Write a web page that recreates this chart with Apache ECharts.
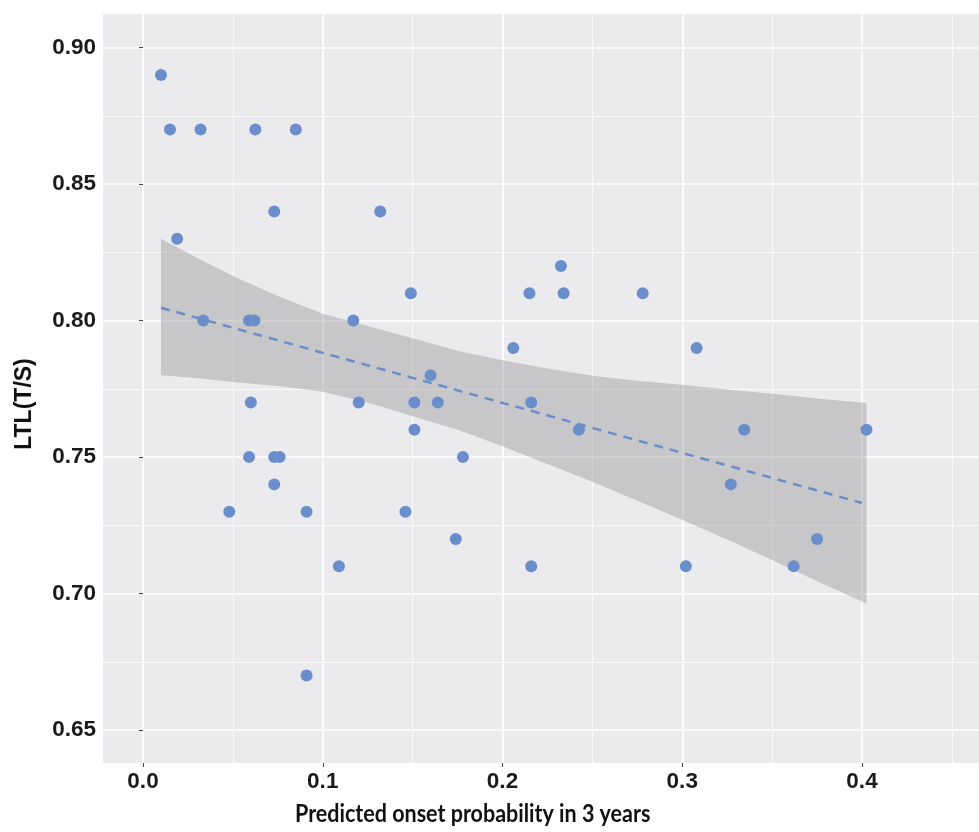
<!DOCTYPE html>
<html>
<head>
<meta charset="utf-8">
<script src="https://cdn.jsdelivr.net/npm/echarts@6/dist/echarts.min.js"></script>
<style>
  html, body { margin: 0; padding: 0; background: #fff; }
  #chart { width: 979px; height: 832px; }
</style>
</head>
<body>
<div id="chart"></div>
<script>
// observed points (predicted probability, LTL T/S)
const probX = [0.01, 0.015, 0.032, 0.0625, 0.085, 0.019, 0.073, 0.132, 0.0335, 0.059,
  0.062, 0.117, 0.06, 0.059, 0.073, 0.076, 0.073, 0.048, 0.091, 0.091,
  0.109, 0.12, 0.149, 0.16, 0.151, 0.151, 0.164, 0.146, 0.174, 0.178,
  0.206, 0.215, 0.216, 0.216, 0.2325, 0.234, 0.2425, 0.278, 0.308, 0.302,
  0.3345, 0.327, 0.362, 0.375, 0.4025]
const ltlY = [0.89, 0.87, 0.87, 0.87, 0.87, 0.83, 0.84, 0.84, 0.80, 0.80,
  0.80, 0.80, 0.77, 0.75, 0.75, 0.75, 0.74, 0.73, 0.73, 0.67,
  0.71, 0.77, 0.81, 0.78, 0.77, 0.76, 0.77, 0.73, 0.72, 0.75,
  0.79, 0.81, 0.77, 0.71, 0.82, 0.81, 0.76, 0.81, 0.79, 0.71,
  0.76, 0.74, 0.71, 0.72, 0.76]

// fitted line end points
const fitX = [0.01, 0.4]
const fitY = [0.8047, 0.7332]

// confidence band
const bandX = [0.01, 0.03, 0.05, 0.075, 0.10, 0.125, 0.15, 0.175, 0.20,
  0.225, 0.25, 0.275, 0.30, 0.325, 0.35, 0.375, 0.4025]
const bandUpper = [0.830, 0.823, 0.8163, 0.809, 0.8025, 0.798, 0.7935, 0.789, 0.7855,
  0.7825, 0.7798, 0.778, 0.7765, 0.7748, 0.7732, 0.7715, 0.7698]
const bandLower = [0.780, 0.779, 0.7775, 0.776, 0.7739, 0.770, 0.765, 0.760, 0.754,
  0.7475, 0.741, 0.734, 0.727, 0.7198, 0.7123, 0.7045, 0.6964]

const xTitle = 'Predicted onset probability in 3 years'
const yTitle = 'LTL(T/S)'

const dotColor = '#6a8ecb'
const labelFont = 'Liberation Sans'

const chart = echarts.init(document.getElementById('chart'), null, { renderer: 'canvas' })

const pointData = probX.map((x, i) => [x, ltlY[i]])
const bandData = bandX.map((x, i) => [x, bandLower[i], bandUpper[i]])
const fitData = fitX.map((x, i) => [x, fitY[i]])

// band drawn as one polygon: upper edge left->right, lower edge back
function renderBand(params, api) {
  if (params.dataIndex !== 0) return
  const pts = []
  for (let i = 0; i < bandData.length; i++) {
    pts.push(api.coord([bandData[i][0], bandData[i][2]]))
  }
  for (let i = bandData.length - 1; i >= 0; i--) {
    pts.push(api.coord([bandData[i][0], bandData[i][1]]))
  }
  return {
    type: 'polygon',
    shape: { points: pts },
    style: { fill: 'rgba(150,150,152,0.42)' },
    silent: true
  }
}

const option = {
  animation: false,
  backgroundColor: '#ffffff',
  // grid is wider than the panel so that ticks sit on round values;
  // the grey panel itself is a graphic rect behind it
  grid: {
    left: -36.75,
    right: -62.75,
    top: -88.8,
    bottom: -34.5,
    containLabel: false,
    outerBoundsMode: 'none'
  },
  graphic: [
    {
      type: 'rect',
      z: -10,
      shape: { x: 103, y: 14, width: 900, height: 749 },
      style: { fill: '#ebebed' }
    },
    {
      // white strip under the panel, keeps grid lines off the title
      type: 'rect',
      z: 50,
      shape: { x: 0, y: 792, width: 979, height: 40 },
      style: { fill: '#ffffff' }
    },
    {
      type: 'text',
      z: 100,
      x: 295,
      y: 814,
      scaleX: 0.86,
      style: {
        text: xTitle,
        fill: '#111',
        font: 'bold 25px Lato',
        align: 'left',
        verticalAlign: 'middle'
      }
    },
    {
      type: 'text',
      z: 100,
      x: 25,
      y: 404,
      rotation: Math.PI / 2,
      style: {
        text: yTitle,
        fill: '#111',
        font: 'bold 23px "Liberation Sans"',
        align: 'center',
        verticalAlign: 'middle'
      }
    }
  ],
  xAxis: {
    type: 'value',
    min: -0.1,
    max: 0.5,
    interval: 0.1,
    offset: -103.5,
    axisLine: { show: false },
    axisTick: { show: true, length: 4, lineStyle: { color: '#444', width: 1 } },
    axisLabel: {
      margin: 7,
      color: '#1a1a1a',
      fontWeight: 'bold',
      fontFamily: labelFont,
      fontSize: 22.5,
      formatter: v => v.toFixed(1)
    },
    splitLine: { show: true, lineStyle: { color: '#ffffff', width: 1.6 } },
    minorTick: { show: false, splitNumber: 2 },
    minorSplitLine: { show: true, lineStyle: { color: '#ffffff', width: 0.8 } }
  },
  yAxis: {
    type: 'value',
    min: 0.6,
    max: 0.95,
    interval: 0.05,
    offset: -139.75,
    axisLine: { show: false },
    axisTick: { show: true, length: 4, lineStyle: { color: '#444', width: 1 } },
    axisLabel: {
      margin: 7,
      color: '#1a1a1a',
      fontWeight: 'bold',
      fontFamily: labelFont,
      fontSize: 22.5,
      formatter: v => v.toFixed(2)
    },
    splitLine: { show: true, lineStyle: { color: '#ffffff', width: 1.6 } },
    minorTick: { show: false, splitNumber: 2 },
    minorSplitLine: { show: true, lineStyle: { color: '#ffffff', width: 0.8 } }
  },
  series: [
    {
      name: 'band',
      type: 'custom',
      data: bandData,
      encode: { x: 0, y: [1, 2] },
      renderItem: renderBand,
      silent: true,
      z: 1
    },
    {
      name: 'fit',
      type: 'line',
      data: fitData,
      symbol: 'none',
      lineStyle: { color: dotColor, width: 2.5, type: [9, 7] },
      z: 2
    },
    {
      name: 'points',
      type: 'scatter',
      data: pointData,
      symbolSize: 12,
      itemStyle: { color: dotColor, opacity: 1 },
      z: 3
    }
  ]
}

chart.setOption(option)
</script>
</body>
</html>
